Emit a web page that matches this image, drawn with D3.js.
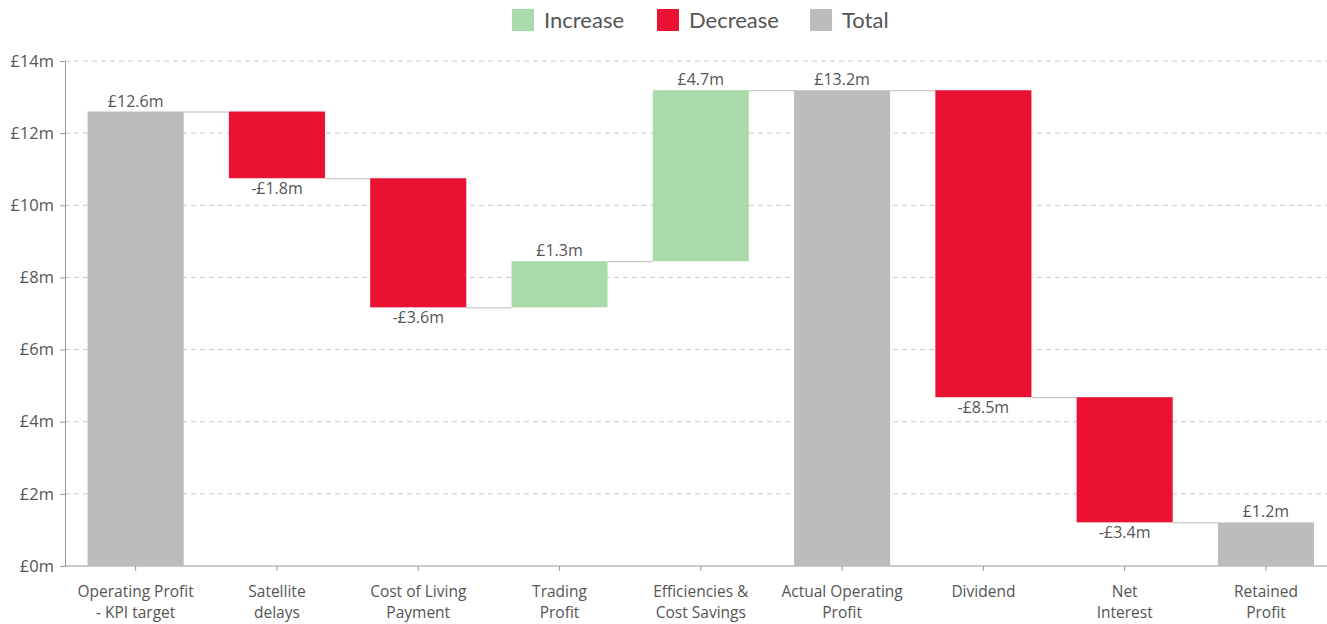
<!DOCTYPE html>
<html><head><meta charset="utf-8">
<script src="https://cdn.jsdelivr.net/npm/d3@7"></script>
<style>body{margin:0;background:#fff;}svg{display:block;}</style>
</head><body><svg id="c" width="1327" height="624"></svg>
<script>
const categories = [["Operating Profit","- KPI target"],["Satellite","delays"],["Cost of Living","Payment"],["Trading","Profit"],["Efficiencies &","Cost Savings"],["Actual Operating","Profit"],["Dividend"],["Net","Interest"],["Retained","Profit"]];
const deltas = [12.6, -1.85, -3.58, 1.28, 4.74, null, -8.51, -3.47, null];
const kinds = ["total","decrease","decrease","increase","increase","total","decrease","decrease","total"];
const valueLabels = ["£12.6m","-£1.8m","-£3.6m","£1.3m","£4.7m","£13.2m","-£8.5m","-£3.4m","£1.2m"];
const yTicks = [0,2,4,6,8,10,12,14];
const legendItems = [["Increase","increase"],["Decrease","decrease"],["Total","total"]];
const colors = {increase:"#a8dba9", decrease:"#eb1133", total:"#bcbcbe"};

const svg = d3.select("#c");
const font = "'Open Sans', sans-serif";
const txt = "#555";
const y = d3.scaleLinear().domain([0,14]).range([566,61]);
const x = d3.scaleBand().domain(d3.range(categories.length)).range([65,1336.6]).paddingInner(0.32).paddingOuter(0.16);

let run = 0;
const bars = deltas.map((d,i)=>{
  let y0,y1;
  if (kinds[i]==="total" && d===null){ y0=0; y1=run; }
  else if (kinds[i]==="total"){ run=d; y0=0; y1=d; }
  else { y0=run; run+=d; y1=run; }
  return {i, y0, y1, end: run, kind: kinds[i]};
});

svg.append("g").selectAll("line").data(yTicks.filter(t=>t>0)).join("line")
  .attr("x1",65).attr("x2",1327).attr("y1",d=>y(d)).attr("y2",d=>y(d))
  .attr("stroke","#c8c8c8").attr("stroke-dasharray","5,4").attr("stroke-width",1);

const ya = svg.append("g").attr("transform","translate(65,0)")
  .call(d3.axisLeft(y).tickValues(yTicks).tickSize(5).tickPadding(6).tickFormat(d=>"£"+d+"m"));
ya.select(".domain").attr("stroke","#999");
ya.selectAll(".tick line").attr("stroke","#999");
ya.selectAll("text").attr("font-family",font).attr("font-size",16.5).attr("fill",txt);

const xa = svg.append("g").attr("transform","translate(0,566)")
  .call(d3.axisBottom(x).tickSizeOuter(0).tickSize(5).tickFormat(""));
xa.select(".domain").attr("stroke","#999").attr("d","M65,0H1327");
xa.selectAll(".tick line").attr("stroke","#999");
xa.selectAll(".tick").each(function(d){
  const t = d3.select(this).append("text").attr("font-family",font).attr("font-size",15.5).attr("fill",txt).attr("text-anchor","middle");
  categories[d].forEach((s,k)=>t.append("tspan").attr("x",0).attr("y",31+k*21).text(s));
});

svg.append("g").selectAll("line").data(bars.slice(0,-1)).join("line")
  .attr("x1",d=>x(d.i)+x.bandwidth()).attr("x2",d=>x(d.i+1))
  .attr("y1",d=>y(d.end)+0.5).attr("y2",d=>y(d.end)+0.5)
  .attr("stroke","#bbb").attr("stroke-width",1);

svg.append("g").selectAll("rect").data(bars).join("rect")
  .attr("x",d=>x(d.i)).attr("width",x.bandwidth())
  .attr("y",d=>y(Math.max(d.y0,d.y1))).attr("height",d=>Math.abs(y(d.y0)-y(d.y1)))
  .attr("fill",d=>colors[d.kind]);

svg.append("g").selectAll("text").data(bars).join("text")
  .attr("x",d=>x(d.i)+x.bandwidth()/2)
  .attr("y",d=>d.kind==="decrease" ? y(Math.min(d.y0,d.y1))+16 : y(Math.max(d.y0,d.y1))-5)
  .attr("text-anchor","middle").attr("font-family",font).attr("font-size",16).attr("fill",txt)
  .text(d=>valueLabels[d.i]);

const lx = [512,657,810];
const lg = svg.append("g").selectAll("g").data(legendItems).join("g")
  .attr("transform",(d,i)=>`translate(${lx[i]},9)`);
lg.append("rect").attr("width",22).attr("height",22).attr("fill",d=>colors[d[1]]);
lg.append("text").attr("x",32).attr("y",19).attr("font-family","Lato, sans-serif").attr("font-size",22).attr("fill",txt).text(d=>d[0]);
</script></body></html>
